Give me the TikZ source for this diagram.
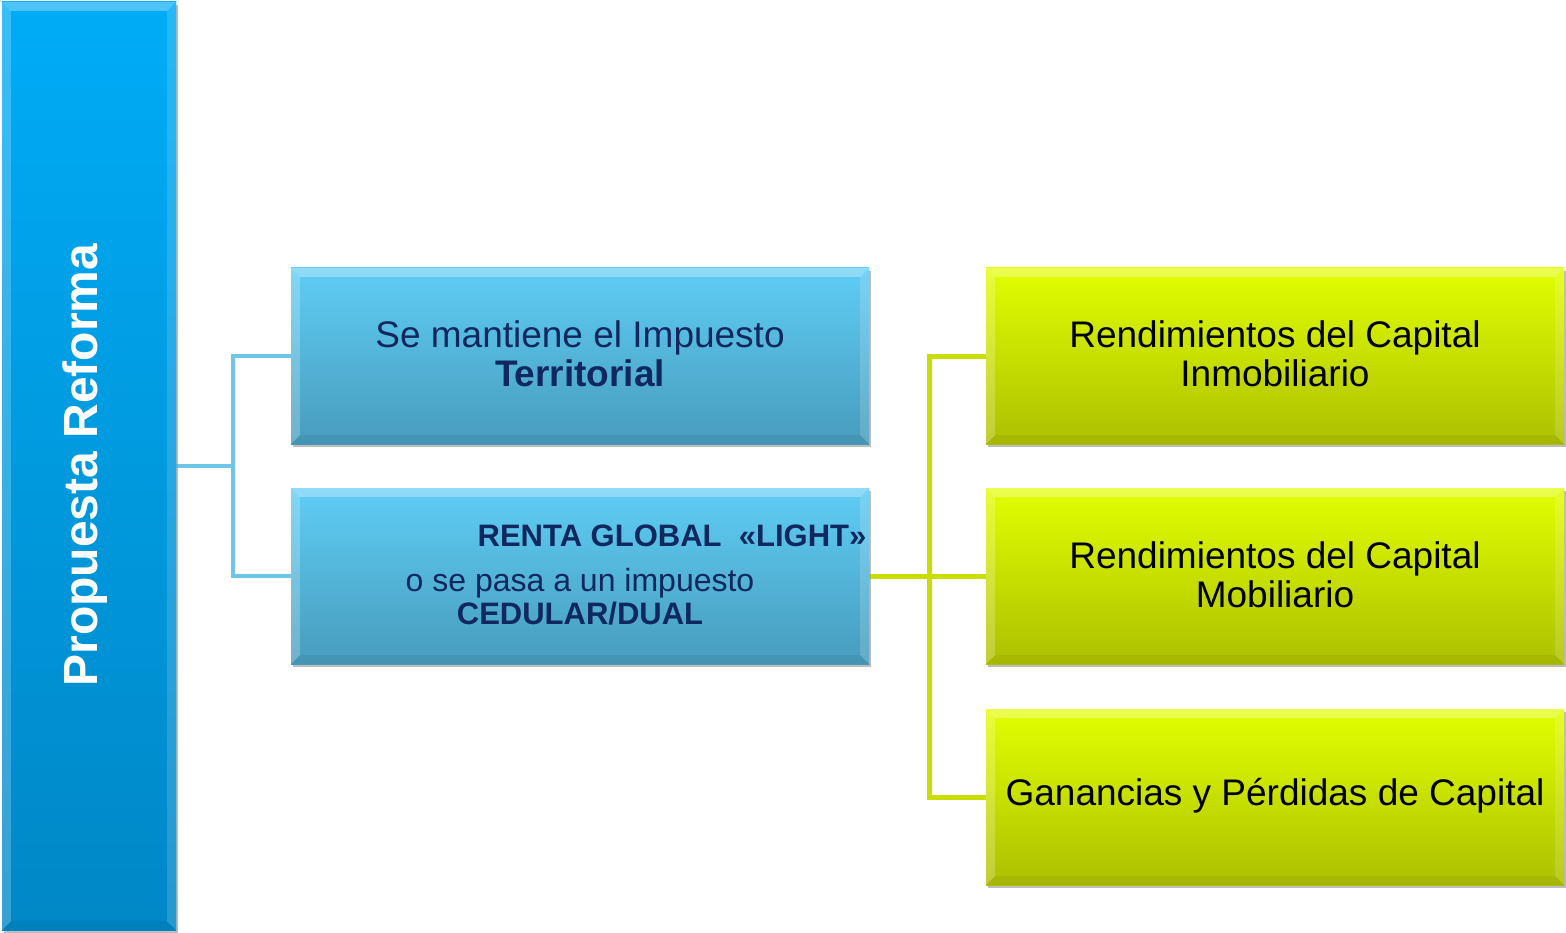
\documentclass[tikz,border=0pt]{standalone}
\usepackage{fontspec}
\setmainfont{Liberation Sans}
\usetikzlibrary{calc,shadows}
\definecolor{barTop}{HTML}{00ACF7}
\definecolor{barBot}{HTML}{0087C6}
\definecolor{bluTop}{HTML}{5FCDF5}
\definecolor{bluBot}{HTML}{479CBC}
\definecolor{grnTop}{HTML}{E2FF00}
\definecolor{grnBot}{HTML}{ADC000}
\definecolor{blueLine}{HTML}{6EC5E6}
\definecolor{greenLine}{HTML}{C9DD00}
\definecolor{navy}{HTML}{10285F}
\tikzset{
  boxbase/.style={rectangle, inner sep=0pt, draw=none,
    drop shadow={opacity=0.3, shadow xshift=2pt, shadow yshift=-3pt}},
  barbox/.style={boxbase, minimum width=174pt, minimum height=928pt, top color=barTop, bottom color=barBot},
  bluebox/.style={boxbase, minimum width=578pt, minimum height=176pt, top color=bluTop, bottom color=bluBot},
  greenbox/.style={boxbase, minimum width=578pt, minimum height=176pt, top color=grnTop, bottom color=grnBot},
  bline/.style={draw=blueLine, line width=4.5pt, line join=miter},
  gline/.style={draw=greenLine, line width=5pt, line join=miter},
  btext/.style={text=navy, align=center, font=\fontsize{37}{39}\selectfont},
  gtext/.style={text=black, align=center, font=\fontsize{37}{39}\selectfont},
}
\newcommand{\bevel}[1]{%
  \fill[white,opacity=0.3] (#1.north west) -- (#1.north east) -- ($(#1.north east)+(-9,9)$) -- ($(#1.north west)+(9,9)$) -- cycle;
  \fill[white,opacity=0.22] (#1.north west) -- ($(#1.north west)+(9,9)$) -- ($(#1.south west)+(9,-9)$) -- (#1.south west) -- cycle;
  \fill[black,opacity=0.05] (#1.south west) -- ($(#1.south west)+(9,-9)$) -- ($(#1.south east)+(-9,-9)$) -- (#1.south east) -- cycle;
  \fill[white,opacity=0.15] (#1.north east) -- ($(#1.north east)+(-9,9)$) -- ($(#1.south east)+(-9,-9)$) -- (#1.south east) -- cycle;
}
\begin{document}
\begin{tikzpicture}[x=1pt,y=-1pt]
\fill[white] (0,0) rectangle (1566,933);
\useasboundingbox (0,0) rectangle (1566,933);
% boxes
\node[barbox] (bar) at (89,466) {};
\node[bluebox] (b1) at (580,356) {};
\node[bluebox] (b2) at (580,576) {};
\node[greenbox] (g1) at (1275,356) {};
\node[greenbox] (g2) at (1275,576) {};
\node[greenbox] (g3) at (1275,797) {};
% connectors
\draw[bline] (bar.east) -- ++(57,0) |- (b1.west);
\draw[bline] (bar.east) -- ++(57,0) |- (b2.west);
\draw[gline] (b2.east) -- ++(60,0) |- (g1.west);
\draw[gline] (b2.east) -- (g2.west);
\draw[gline] (b2.east) -- ++(60,0) |- (g3.west);
% redraw boxes over connector ends
\node[barbox] at (bar) {};
\node[bluebox] at (b1) {};
\node[bluebox] at (b2) {};
\node[greenbox] at (g1) {};
\node[greenbox] at (g2) {};
\node[greenbox] at (g3) {};
\bevel{bar}\bevel{b1}\bevel{b2}\bevel{g1}\bevel{g2}\bevel{g3}
% texts
\node[rotate=90, text=white, font=\fontsize{48}{50}\selectfont\bfseries] (t0) at (85,465) {Propuesta Reforma};
\node[btext] (t1) at (580,354) {Se mantiene el Impuesto\\\textbf{Territorial}};
\node[text=navy, font=\fontsize{31}{34}\selectfont\bfseries, anchor=base] (t2a) at (672,546) {RENTA GLOBAL \ «LIGHT»};
\node[text=navy, font=\fontsize{32}{34}\selectfont, anchor=base] (t2b) at (580,591) {o se pasa a un impuesto};
\node[text=navy, font=\fontsize{31}{34}\selectfont\bfseries, anchor=base] (t2c) at (580,624) {CEDULAR/DUAL};
\node[gtext] (t3) at (1275,354) {Rendimientos del Capital\\Inmobiliario};
\node[gtext] (t4) at (1275,575) {Rendimientos del Capital\\Mobiliario};
\node[gtext] (t5) at (1275,796) {Ganancias y Pérdidas de Capital};
\end{tikzpicture}
\end{document}
